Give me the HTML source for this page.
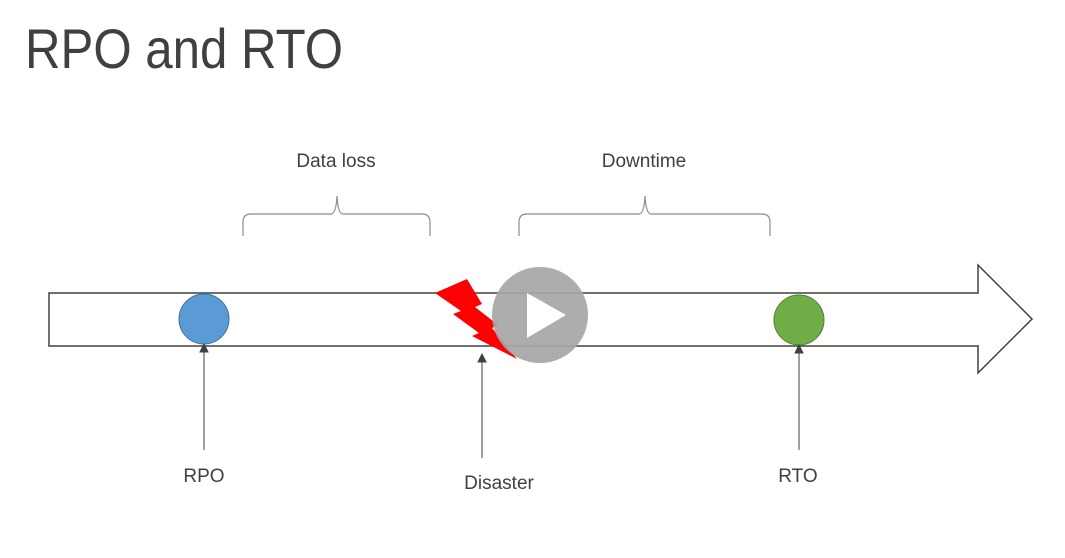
<!DOCTYPE html>
<html><head><meta charset="utf-8"><style>
html,body{margin:0;padding:0;background:#fff;}
svg{display:block;}
text{font-family:"Liberation Sans",sans-serif;fill:#404040;}
</style></head><body>
<svg width="1065" height="558" viewBox="0 0 1065 558" xmlns="http://www.w3.org/2000/svg">
<text x="25" y="68" font-size="56" textLength="318" lengthAdjust="spacingAndGlyphs">RPO and RTO</text>
<text x="336" y="167" font-size="19" text-anchor="middle">Data loss</text>
<text x="644" y="167" font-size="19" text-anchor="middle">Downtime</text>
<path d="M243,236 L243,222 Q243,214 251,214 L331,214 Q336,214 337,196 Q338,214 343,214 L422,214 Q430,214 430,222 L430,236" fill="none" stroke="#8c8c8c" stroke-width="1.2"/>
<path d="M519,236 L519,222 Q519,214 527,214 L639,214 Q644,214 645,196 Q646,214 651,214 L762,214 Q770,214 770,222 L770,236" fill="none" stroke="#8c8c8c" stroke-width="1.2"/>
<path d="M49,293 L978,293 L978,265 L1032,319 L978,373 L978,346 L49,346 Z" fill="#fff" stroke="#404040" stroke-width="1.5"/>
<circle cx="204" cy="319" r="25" fill="#5b9bd5" stroke="#41719c" stroke-width="1"/>
<circle cx="799" cy="320" r="25" fill="#70ad47" stroke="#507e32" stroke-width="1"/>
<polygon points="435,293 467,279 482,304 475,307 498,325 492,328 517,359 472,336 479,333 453,314 461,311" fill="#f00"/>
<circle cx="540" cy="315" r="48" fill="#a6a6a6" fill-opacity="0.92"/>
<polygon points="527,293 527,338 566,315" fill="#fff"/>
<g stroke="#404040" stroke-width="1" fill="#404040">
<line x1="204" y1="450" x2="204" y2="350"/><polygon points="200,352 208,352 204,344"/>
<line x1="482" y1="458" x2="482" y2="360"/><polygon points="478,362 486,362 482,354"/>
<line x1="799" y1="450" x2="799" y2="351"/><polygon points="795,353 803,353 799,345"/>
</g>
<text x="204" y="482" font-size="19" text-anchor="middle">RPO</text>
<text x="499" y="489" font-size="19" text-anchor="middle">Disaster</text>
<text x="798" y="482" font-size="19" text-anchor="middle">RTO</text>
</svg>
</body></html>
